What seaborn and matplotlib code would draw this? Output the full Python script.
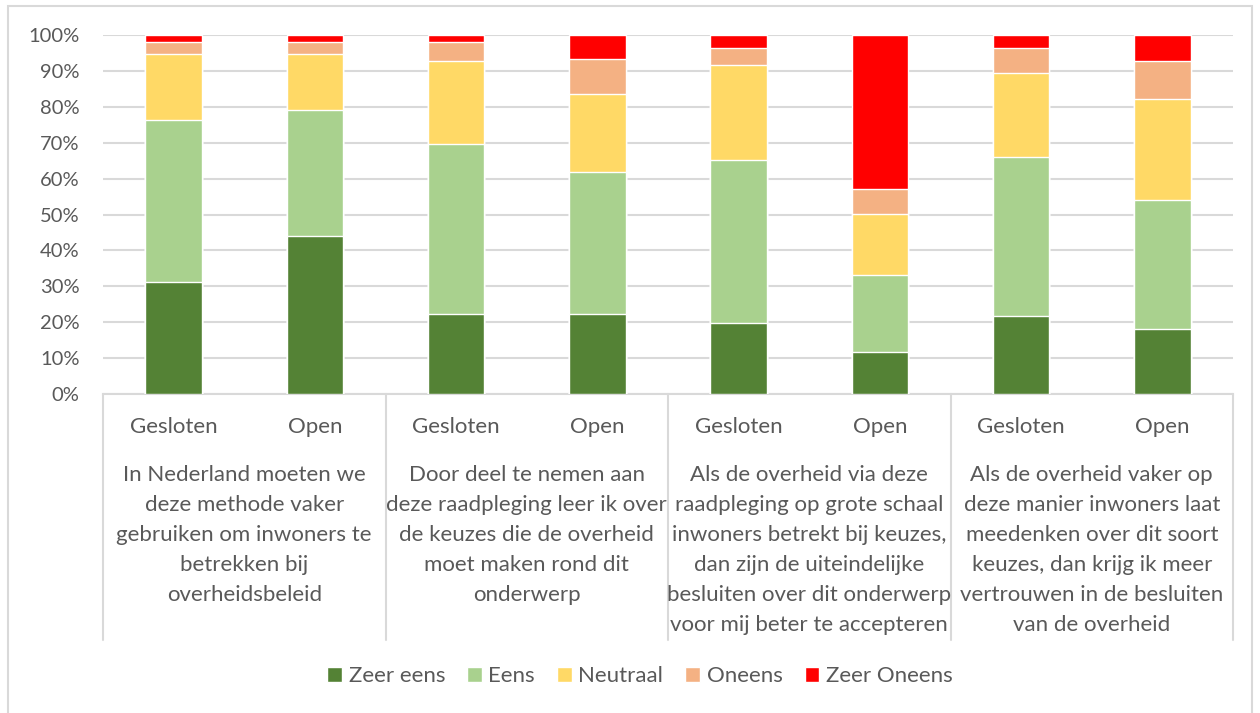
import numpy as np
import pandas as pd
import matplotlib
matplotlib.use("Agg")
import matplotlib.pyplot as plt
import seaborn as sns
from matplotlib.patches import Patch, Rectangle
from matplotlib.lines import Line2D
from matplotlib.transforms import blended_transform_factory

# data (percentages)
bars = ["G1", "O1", "G2", "O2", "G3", "O3", "G4", "O4"]
bar_labels = ["Gesloten", "Open"] * 4
zeer_eens = [31.1, 43.9, 22.3, 22.3, 19.9, 11.8, 21.7, 18.1]
eens = [45.3, 35.3, 47.4, 39.6, 45.4, 21.4, 44.4, 35.9]
neutraal = [18.4, 15.6, 23.0, 21.7, 26.3, 17.0, 23.3, 28.2]
oneens = [3.2, 3.2, 5.3, 9.8, 4.7, 6.9, 6.9, 10.6]
zeer_oneens = [2.0, 2.0, 2.0, 6.6, 3.7, 42.9, 3.7, 7.2]
series = ["Zeer eens", "Eens", "Neutraal", "Oneens", "Zeer Oneens"]
colors = ["#548235", "#A9D18E", "#FFD966", "#F4B183", "#FF0000"]
groups = [
    "In Nederland moeten we\ndeze methode vaker\ngebruiken om inwoners te\nbetrekken bij\noverheidsbeleid",
    "Door deel te nemen aan\ndeze raadpleging leer ik over\nde keuzes die de overheid\nmoet maken rond dit\nonderwerp",
    "Als de overheid via deze\nraadpleging op grote schaal\ninwoners betrekt bij keuzes,\ndan zijn de uiteindelijke\nbesluiten over dit onderwerp\nvoor mij beter te accepteren",
    "Als de overheid vaker op\ndeze manier inwoners laat\nmeedenken over dit soort\nkeuzes, dan krijg ik meer\nvertrouwen in de besluiten\nvan de overheid",
]

df = pd.DataFrame({"bar": bars, "Zeer eens": zeer_eens, "Eens": eens,
                   "Neutraal": neutraal, "Oneens": oneens, "Zeer Oneens": zeer_oneens})
cum = df[series].cumsum(axis=1)

sns.set_style("white")
plt.rcParams["font.family"] = ["Lato", "DejaVu Sans"]
txt = "#595959"
grid = "#D9D9D9"

fig = plt.figure(figsize=(12.6, 7.13), dpi=100)
ax = fig.add_axes([103 / 1260, 1 - 394 / 713, 1130 / 1260, 359 / 713])

# overlay cumulative bars, tallest first
for s, c in reversed(list(zip(series, colors))):
    sns.barplot(x=df["bar"], y=cum[s], order=bars, color=c, width=0.4,
                saturation=1, ax=ax, zorder=3)

ax.set_ylim(0, 100)
ax.set_xlim(-0.5, 7.5)
ax.set_yticks(np.arange(0, 101, 10))
ax.set_yticklabels([f"{v}%" for v in range(0, 101, 10)], color=txt, fontsize=14.5)
ax.tick_params(axis="y", length=0, pad=17)
ax.set_xticks([])
ax.set_xlabel("")
ax.set_ylabel("")
ax.yaxis.grid(True, color=grid, linewidth=1.5, zorder=0)
for side in ["top", "right", "left"]:
    ax.spines[side].set_visible(False)
ax.spines["bottom"].set_color(grid)
ax.spines["bottom"].set_linewidth(1.5)

tr = blended_transform_factory(ax.transData, fig.transFigure)
for i, lab in enumerate(bar_labels):
    fig.text(i, 1 - 427 / 713, lab, transform=tr, ha="center", va="center",
             fontsize=16, color=txt)
for g, lab in enumerate(groups):
    fig.text(2 * g + 0.5, 1 - 465 / 713, lab, transform=tr, ha="center", va="top",
             fontsize=16, color=txt, linespacing=1.62)
for xs in [-0.5, 1.5, 3.5, 5.5, 7.5]:
    fig.add_artist(Line2D([xs, xs], [1 - 394 / 713, 1 - 640 / 713], transform=tr,
                          color=grid, linewidth=1.5))

# outer chart frame
fig.add_artist(Rectangle((8 / 1260, -0.05), 1244 / 1260, 1.05 - 6 / 713,
                         transform=fig.transFigure, fill=False, edgecolor=grid,
                         linewidth=1.5))

handles = [Patch(facecolor=c, label=s) for s, c in zip(series, colors)]
leg = fig.legend(handles=handles, loc="center", bbox_to_anchor=(640 / 1260, 1 - 676 / 713),
                 ncol=5, frameon=False, fontsize=16, handlelength=0.65, handleheight=0.65,
                 handletextpad=0.3, columnspacing=1.0)
for t in leg.get_texts():
    t.set_color(txt)

fig.savefig("out.png", dpi=100)
